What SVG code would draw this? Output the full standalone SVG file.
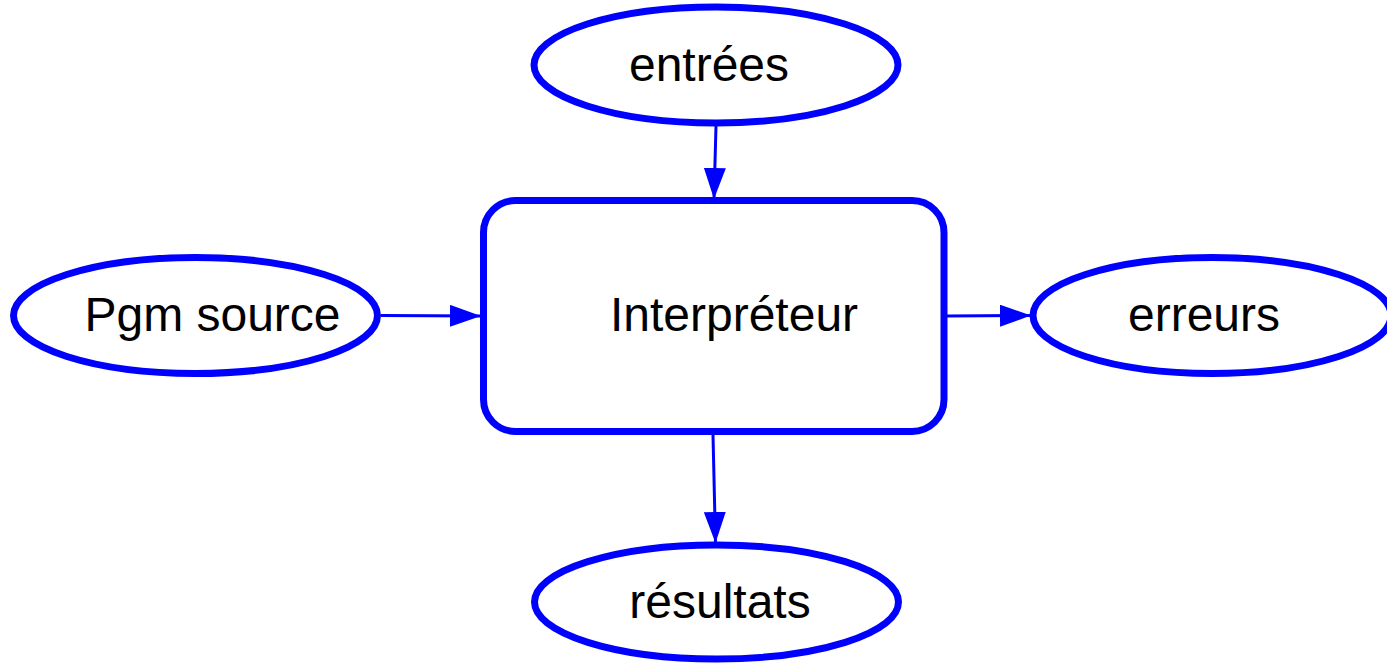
<svg xmlns="http://www.w3.org/2000/svg" width="1387" height="663" viewBox="0 0 1387 663">
  <style>
    .node { fill: #ffffff; stroke: #0000ff; stroke-width: 7; }
    .edge { stroke: #0000ff; stroke-width: 3; fill: none; }
    .label { font-family: "Liberation Sans", Arial, sans-serif; font-size: 48px; fill: #000000; text-anchor: middle; }
  </style>
  <defs>
    <marker id="arrow" markerUnits="userSpaceOnUse" markerWidth="32" markerHeight="22" refX="31" refY="11" orient="auto">
      <path d="M0,0 L31,11 L0,22 z" fill="#0000ff"/>
    </marker>
  </defs>
  <rect width="1387" height="663" fill="#ffffff"/>
  <g id="connectors">
    <line class="edge" x1="716" y1="126" x2="714" y2="199" marker-end="url(#arrow)"/>
    <line class="edge" x1="381" y1="315.5" x2="481" y2="316" marker-end="url(#arrow)"/>
    <line class="edge" x1="947" y1="316" x2="1031" y2="315.5" marker-end="url(#arrow)"/>
    <line class="edge" x1="713" y1="435" x2="715.5" y2="543" marker-end="url(#arrow)"/>
  </g>
  <g id="node-entrees">
    <ellipse class="node" cx="716" cy="65" rx="182" ry="58"/>
    <text class="label" x="709" y="81">entrées</text>
  </g>
  <g id="node-interpreteur">
    <rect class="node" x="483.5" y="200.5" width="460.5" height="231" rx="32" ry="32"/>
    <text class="label" x="734" y="331">Interpréteur</text>
  </g>
  <g id="node-pgm-source">
    <ellipse class="node" cx="195.5" cy="315.5" rx="182" ry="58"/>
    <text class="label" x="212.5" y="331">Pgm source</text>
  </g>
  <g id="node-erreurs">
    <ellipse class="node" cx="1212" cy="315.5" rx="179" ry="58"/>
    <text class="label" x="1204" y="331">erreurs</text>
  </g>
  <g id="node-resultats">
    <ellipse class="node" cx="716.5" cy="602" rx="182" ry="57"/>
    <text class="label" x="720" y="618">résultats</text>
  </g>
</svg>
